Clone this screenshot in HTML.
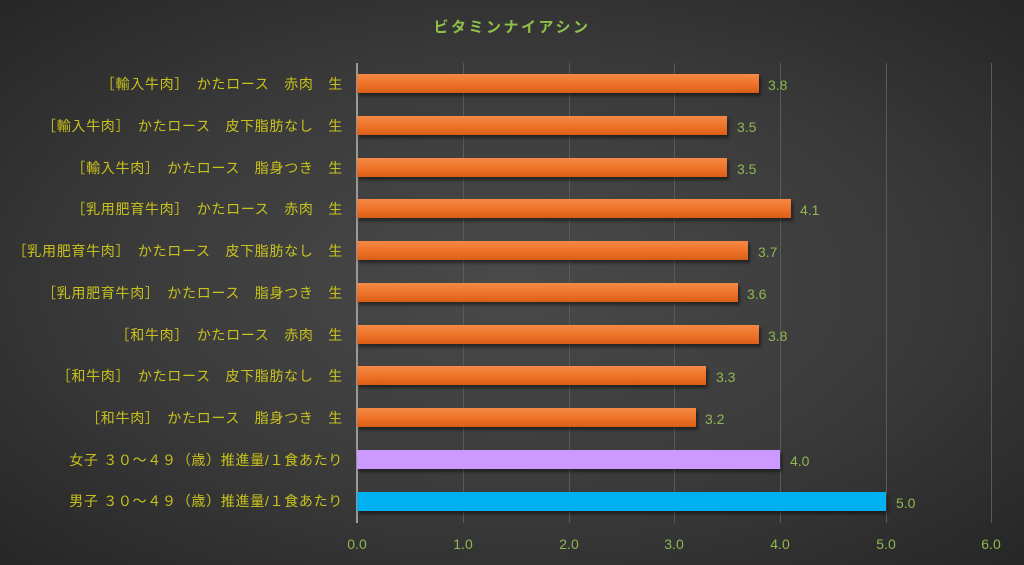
<!DOCTYPE html>
<html><head><meta charset="utf-8"><style>
html,body{margin:0;padding:0}
body{width:1024px;height:565px;overflow:hidden;background:radial-gradient(ellipse at 50% 50%,#4a4a4a 0%,#3a3a3a 55%,#262626 100%);font-family:"Liberation Sans","Noto Sans CJK JP",sans-serif;position:relative}
.t{position:absolute;top:16px;left:0;width:1024px;text-align:center;color:#8fc04a;font-weight:bold;font-size:15px;letter-spacing:2.5px}
.lab{position:absolute;right:681px;color:#c9c21c;font-size:14px;letter-spacing:0.7px;white-space:pre;line-height:16px}
.bar{position:absolute;left:357px;height:19px;box-shadow:2px 3px 3px rgba(0,0,0,.45)}
.o{background:linear-gradient(#f58a45,#ec6f25 60%,#d85e18)}
.v{position:absolute;color:#8fb850;font-size:14px;line-height:16px}
.g{position:absolute;top:63px;height:460px;width:1px;background:#5a5a5a}
.tk{position:absolute;top:536px;color:#8fb850;font-size:14px;width:40px;margin-left:-20px;text-align:center}
</style></head><body>
<div class="t">ビタミンナイアシン</div>
<div class="g" style="left:463px"></div><div class="g" style="left:569px"></div><div class="g" style="left:674px"></div><div class="g" style="left:780px"></div><div class="g" style="left:886px"></div><div class="g" style="left:991px"></div>
<div class="g" style="left:356px;width:2px;background:#9a9a9a"></div>
<div class="lab" style="top:76px">［輸入牛肉］　かたロース　赤肉　生</div>
<div class="lab" style="top:118px">［輸入牛肉］　かたロース　皮下脂肪なし　生</div>
<div class="lab" style="top:160px">［輸入牛肉］　かたロース　脂身つき　生</div>
<div class="lab" style="top:201px">［乳用肥育牛肉］　かたロース　赤肉　生</div>
<div class="lab" style="top:243px">［乳用肥育牛肉］　かたロース　皮下脂肪なし　生</div>
<div class="lab" style="top:285px">［乳用肥育牛肉］　かたロース　脂身つき　生</div>
<div class="lab" style="top:327px">［和牛肉］　かたロース　赤肉　生</div>
<div class="lab" style="top:368px">［和牛肉］　かたロース　皮下脂肪なし　生</div>
<div class="lab" style="top:410px">［和牛肉］　かたロース　脂身つき　生</div>
<div class="lab" style="top:452px">女子 ３０～４９（歳）推進量/１食あたり</div>
<div class="lab" style="top:493px">男子 ３０～４９（歳）推進量/１食あたり</div>
<div class="bar o" style="top:74px;width:402px"></div><div class="v" style="top:77px;left:768px">3.8</div>
<div class="bar o" style="top:116px;width:370px"></div><div class="v" style="top:119px;left:737px">3.5</div>
<div class="bar o" style="top:158px;width:370px"></div><div class="v" style="top:161px;left:737px">3.5</div>
<div class="bar o" style="top:199px;width:434px"></div><div class="v" style="top:202px;left:800px">4.1</div>
<div class="bar o" style="top:241px;width:391px"></div><div class="v" style="top:244px;left:758px">3.7</div>
<div class="bar o" style="top:283px;width:381px"></div><div class="v" style="top:286px;left:747px">3.6</div>
<div class="bar o" style="top:325px;width:402px"></div><div class="v" style="top:328px;left:768px">3.8</div>
<div class="bar o" style="top:366px;width:349px"></div><div class="v" style="top:369px;left:716px">3.3</div>
<div class="bar o" style="top:408px;width:339px"></div><div class="v" style="top:411px;left:705px">3.2</div>
<div class="bar" style="top:450px;width:423px;background:#cc99ff"></div><div class="v" style="top:453px;left:790px">4.0</div>
<div class="bar" style="top:492px;width:529px;background:#00b0f0"></div><div class="v" style="top:495px;left:896px">5.0</div>
<div class="tk" style="left:357px">0.0</div><div class="tk" style="left:463px">1.0</div><div class="tk" style="left:569px">2.0</div><div class="tk" style="left:674px">3.0</div><div class="tk" style="left:780px">4.0</div><div class="tk" style="left:886px">5.0</div><div class="tk" style="left:991px">6.0</div>
</body></html>
